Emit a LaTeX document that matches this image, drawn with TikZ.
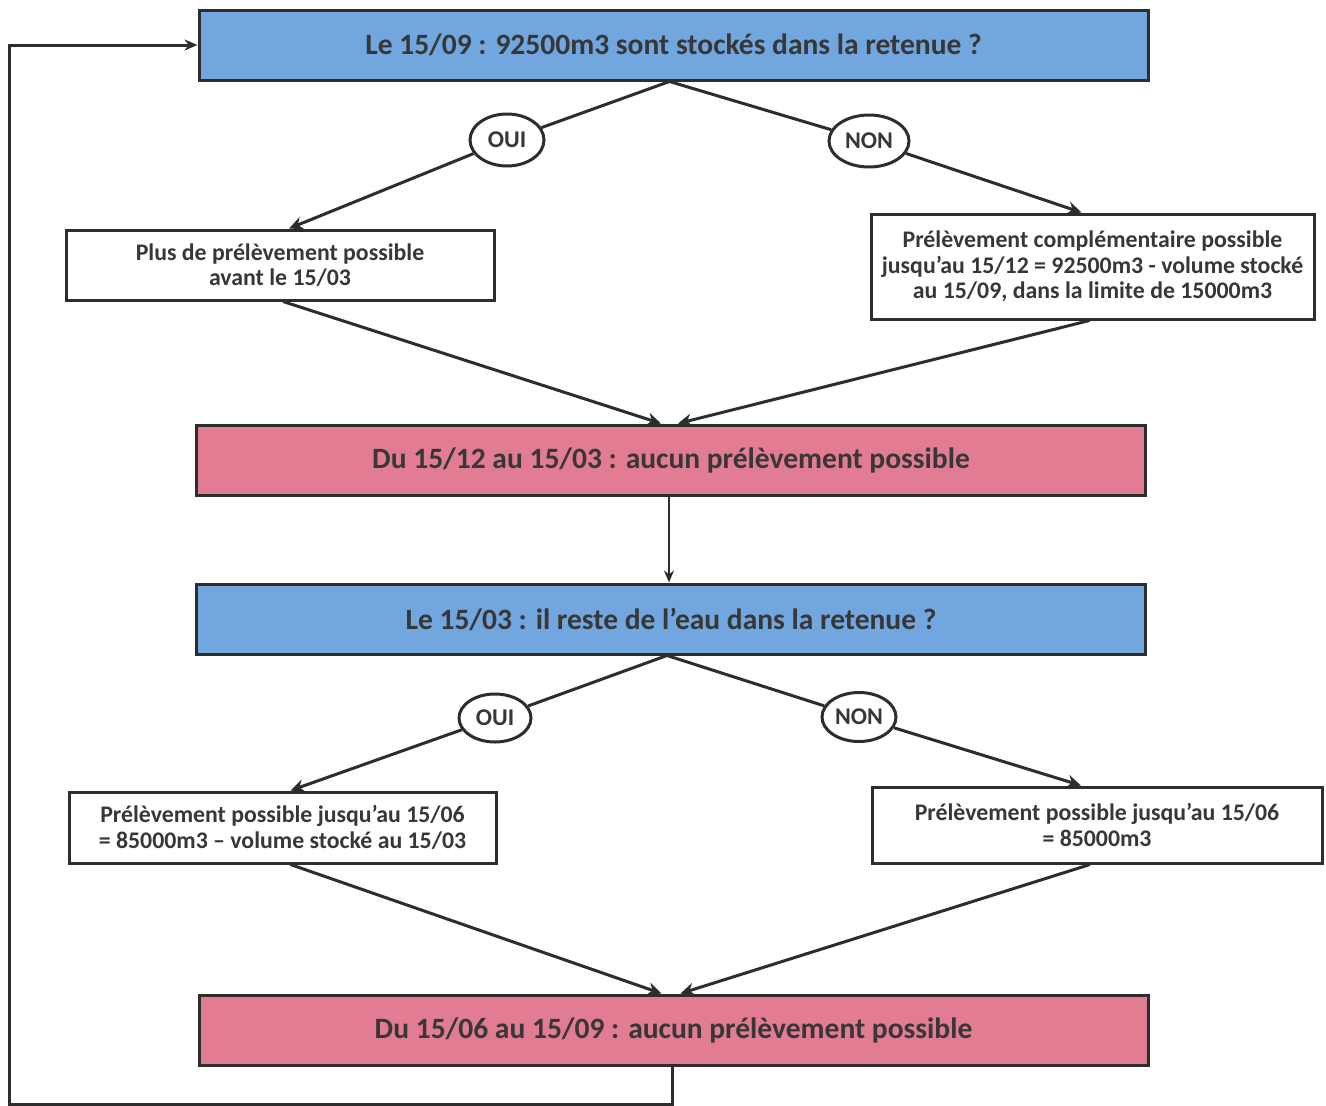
\documentclass[tikz,border=0pt]{standalone}
\usepackage{fontspec}
\setmainfont{Carlito}
\usetikzlibrary{shapes.geometric,arrows.meta,calc}
\definecolor{qblue}{RGB}{114,166,222}
\definecolor{rpink}{RGB}{226,124,146}
\definecolor{edge}{RGB}{45,45,45}
\definecolor{txt}{RGB}{55,55,55}
\begin{document}
\begin{tikzpicture}[x=1pt,y=-1pt,
  every node/.style={font=\bfseries, text=txt},
  qbox/.style={draw=edge, line width=3pt, fill=qblue, minimum width=949pt, minimum height=70pt, font=\bfseries\fontsize{29.5}{32}\selectfont, inner sep=0pt},
  rbox/.style={draw=edge, line width=3pt, fill=rpink, minimum width=949pt, minimum height=70pt, font=\bfseries\fontsize{29.5}{32}\selectfont, inner sep=0pt},
  wbox/.style={draw=edge, line width=3pt, fill=white, align=center, inner sep=0pt, font=\bfseries\fontsize{23.8}{25.5}\selectfont},
  lbl/.style={draw=edge, line width=3pt, fill=white, ellipse, inner sep=0pt, font=\bfseries\fontsize{24}{26}\selectfont},
  conn/.style={draw=edge, line width=3pt},
  arr/.style={draw=edge, line width=3pt, -{Stealth[length=14pt,width=13pt]}},
  thin/.style={draw=edge, line width=2pt, -{Stealth[length=12pt,width=10pt]}},
  loopline/.style={draw=edge, line width=3pt, -{Stealth[length=13pt,width=11pt]}}
]
\useasboundingbox (0,0) rectangle (1326,1106);

\node[qbox] (q1) at (673.5,45) {Le 15/09 : 92500m3 sont stockés dans la retenue ?};
\node[lbl, minimum width=74pt, minimum height=52pt] (oui1) at (507,140) {OUI};
\node[lbl, minimum width=80pt, minimum height=52pt] (non1) at (869,141) {NON};
\node[wbox, minimum width=428pt, minimum height=70pt] (a1) at (280,265) {Plus de prélèvement possible\\avant le 15/03};
\node[wbox, minimum width=443pt, minimum height=105pt] (b1) at (1092.5,266.5) {Prélèvement complémentaire possible\\jusqu’au 15/12 = 92500m3 - volume stocké\\au 15/09, dans la limite de 15000m3};
\node[rbox] (r1) at (671,460) {Du 15/12 au 15/03 : aucun prélèvement possible};
\node[qbox] (q2) at (671,619) {Le 15/03 : il reste de l’eau dans la retenue ?};
\node[lbl, minimum width=72pt, minimum height=48pt] (oui2) at (495,718) {OUI};
\node[lbl, minimum width=74pt, minimum height=49pt] (non2) at (859,717) {NON};
\node[wbox, minimum width=427pt, minimum height=71pt] (a2) at (282.5,827.5) {Prélèvement possible jusqu’au 15/06\\= 85000m3 – volume stocké au 15/03};
\node[wbox, minimum width=450pt, minimum height=76pt] (b2) at (1097,825) {Prélèvement possible jusqu’au 15/06\\= 85000m3};
\node[rbox] (r2) at (673.5,1030) {Du 15/06 au 15/09 : aucun prélèvement possible};

\coordinate (loopc) at (9,1104);

% first decision
\draw[conn] ([xshift=-4pt]q1.south) -- (oui1);
\draw[arr] (oui1) -- ([xshift=9pt]a1.north);
\draw[conn] ([xshift=-4pt]q1.south) -- (non1);
\draw[arr] (non1) -- ([xshift=-11pt]b1.north);
\draw[arr] ([xshift=3pt]a1.south) -- ([xshift=-10pt]r1.north);
\draw[arr] ([xshift=-3pt]b1.south) -- ([xshift=7pt]r1.north);
\draw[thin] ([xshift=-2pt]r1.south) -- ([xshift=-2pt]q2.north);

% second decision
\draw[conn] ([xshift=-4pt]q2.south) -- (oui2);
\draw[arr] (oui2) -- ([xshift=8pt]a2.north);
\draw[conn] ([xshift=-4pt]q2.south) -- (non2);
\draw[arr] (non2) -- ([xshift=-16pt]b2.north);
\draw[arr] ([xshift=8pt]a2.south) -- ([xshift=-12pt]r2.north);
\draw[arr] ([xshift=-7pt]b2.south) -- ([xshift=7pt]r2.north);

% loop back
\draw[loopline] ([xshift=-1.5pt]r2.south) |- (loopc) |- (q1.west);
\end{tikzpicture}
\end{document}
